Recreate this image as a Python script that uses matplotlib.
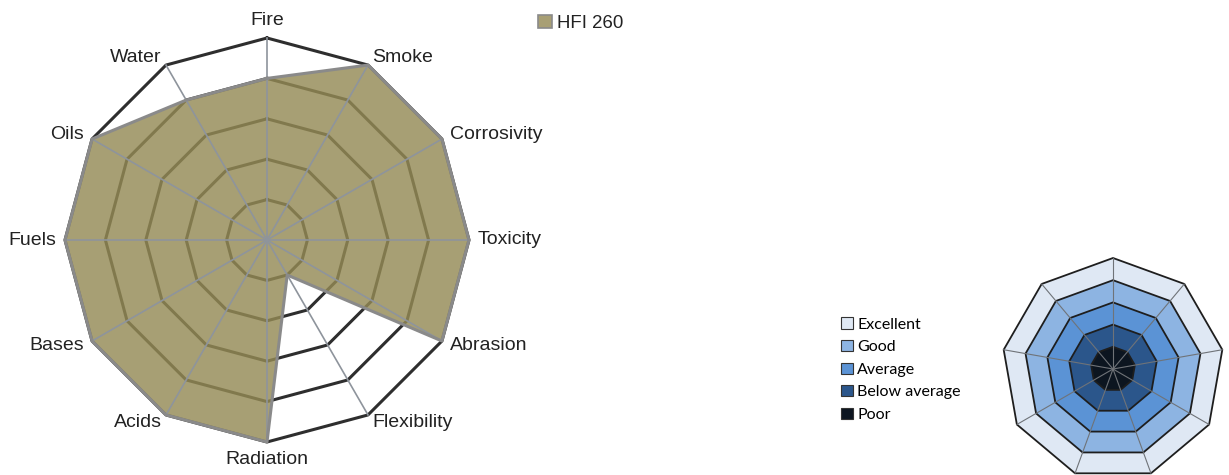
import matplotlib
matplotlib.use('Agg')
import matplotlib.pyplot as plt
from matplotlib.patches import Patch
import numpy as np

# main radar data
categories = ['Fire', 'Smoke', 'Corrosivity', 'Toxicity', 'Abrasion', 'Flexibility',
              'Radiation', 'Acids', 'Bases', 'Fuels', 'Oils', 'Water']
hfi_260 = [4, 5, 5, 5, 5, 1, 5, 5, 5, 5, 5, 4]
series_name = 'HFI 260'
grid_levels = [1, 2, 3, 4, 5]

# rating key (small nonagon)
key_labels = ['Excellent', 'Good', 'Average', 'Below average', 'Poor']
key_levels = [5, 4, 3, 2, 1]
key_colors = ['#dfe8f4', '#8db4e2', '#5b93d5', '#2b568b', '#0c1520']
key_sides = 9

W, H = 1229, 475
fig = plt.figure(figsize=(W / 100, H / 100), dpi=100)


def polar_box(cx, cy, r):
    # axes rectangle (figure fraction) for a polar axes centred at pixel cx, cy
    return [(cx - r) / W, (H - cy - r) / H, 2 * r / W, 2 * r / H]


def setup(ax):
    ax.set_theta_offset(np.pi / 2)
    ax.set_theta_direction(-1)
    ax.set_ylim(0, 5)
    ax.set_axis_off()


# ---- main radar ----
ax = fig.add_axes(polar_box(267, 240, 202), projection='polar')
setup(ax)
n = len(categories)
angles = np.linspace(0, 2 * np.pi, n, endpoint=False)
closed = np.append(angles, angles[0])

for lvl in grid_levels:
    ax.plot(closed, [lvl] * (n + 1), color='#2e2e2e', lw=2.2, zorder=1, clip_on=False)

vals = np.append(hfi_260, hfi_260[0])
ax.fill(closed, vals, color='#948a55', alpha=0.82, lw=0, zorder=2)

for a in angles:
    ax.plot([a, a], [0, 5], color='#8e949c', lw=1.2, zorder=3, clip_on=False)

ax.plot(closed, vals, color='#8a8a8a', lw=2.2, zorder=4, clip_on=False)

for a, lab in zip(angles, categories):
    s, c = np.sin(a), np.cos(a)
    if abs(s) < 0.1:
        ha = 'center'
        va = 'bottom' if c > 0 else 'top'
    else:
        ha = 'left' if s > 0 else 'right'
        va = 'center'
    ax.annotate(lab, xy=(a, 5), xytext=(9 * s, 9 * c), textcoords='offset pixels',
                ha=ha, va=va, fontsize=14, color='#222222',
                family='Liberation Sans', annotation_clip=False)

fig.legend(handles=[Patch(facecolor='#a89f74', edgecolor='#8a8a8a', lw=1.2)],
           labels=[series_name], loc='upper left', bbox_to_anchor=(521 / W, 1 + 2 / H),
           frameon=False, handlelength=0.75, handleheight=0.75, handletextpad=0.3,
           prop={'family': 'Liberation Sans', 'size': 13.4}, labelcolor='#222222')

# ---- rating key ----
kx = fig.add_axes(polar_box(1113, 369, 111), projection='polar')
setup(kx)
ka = np.linspace(0, 2 * np.pi, key_sides, endpoint=False)
kc = np.append(ka, ka[0])
for lvl, col in zip(key_levels, key_colors):
    kx.fill(kc, [lvl] * (key_sides + 1), facecolor=col, edgecolor='#1e1e1e',
            lw=1.3, zorder=1, clip_on=False)
for a in ka:
    kx.plot([a, a], [0, 5], color='#6f7378', lw=0.8, zorder=2, clip_on=False)

fig.legend(handles=[Patch(facecolor=c, edgecolor='#333333', lw=0.8) for c in key_colors],
           labels=key_labels, loc='upper left', bbox_to_anchor=(827 / W, 1 - 303 / H),
           frameon=False, handlelength=0.7, handleheight=0.7, handletextpad=0.3,
           labelspacing=0.53, prop={'family': 'Lato', 'size': 11.5})

fig.savefig('out.png', dpi=100)
